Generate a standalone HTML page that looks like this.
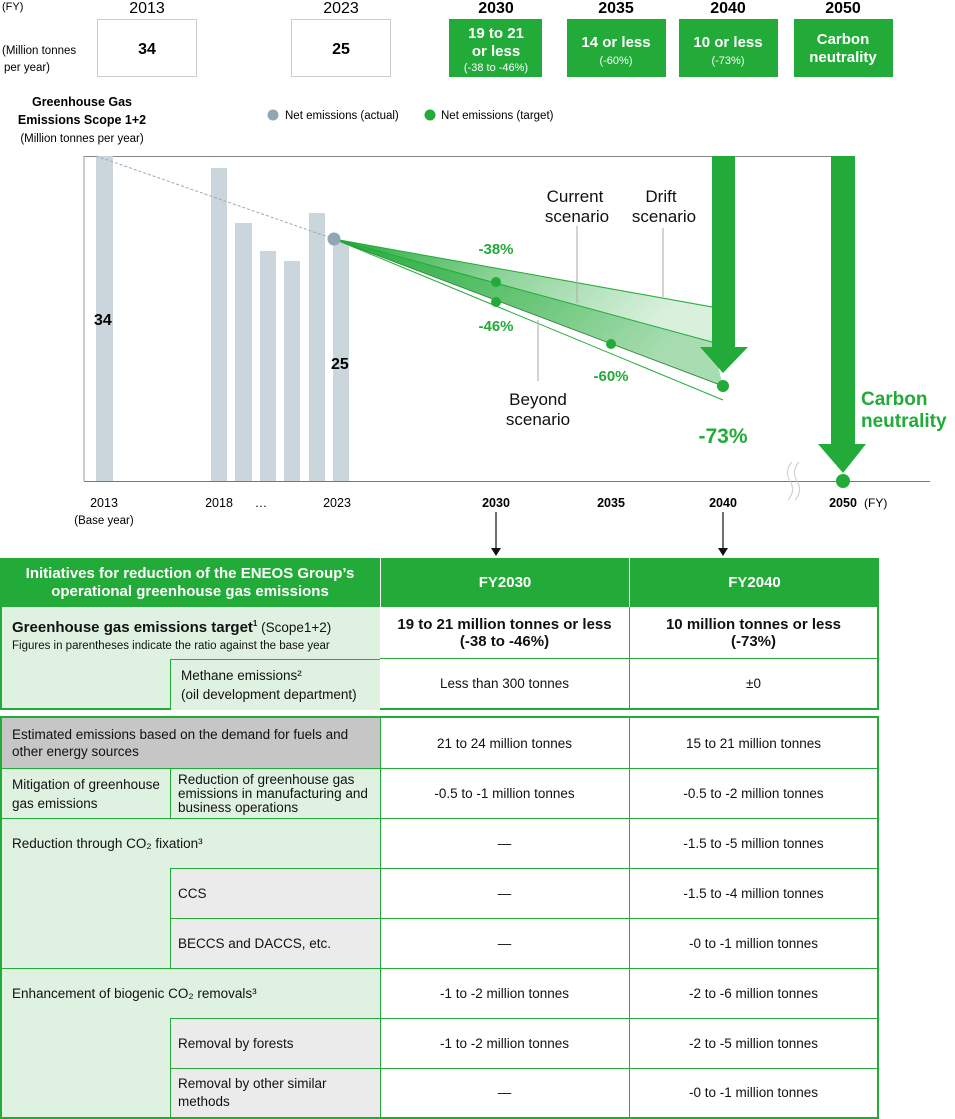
<!DOCTYPE html>
<html><head><meta charset="utf-8"><style>
body{margin:0;width:955px;height:1119px;background:#fff;font-family:"Liberation Sans",sans-serif;position:relative;overflow:hidden;color:#111}
.c{position:absolute;box-sizing:border-box;display:flex;align-items:center;font-size:13.5px;line-height:17px}
.cc{justify-content:center;text-align:center}
.pl{padding-left:10px}
.lg{background:#dff2e2}.gy{background:#c6c6c6}.lgy{background:#ebebeb}.wh{background:#fff}
.hd{background:#22ab38;color:#fff;font-weight:bold;font-size:15px;line-height:18px}
.ln{position:absolute;background:#22ab38}
</style></head><body>
<svg width="955" height="556" style="position:absolute;left:0;top:0" font-family="Liberation Sans, sans-serif">
<defs>
<linearGradient id="g1" x1="0" y1="0" x2="1" y2="0.3"><stop offset="0" stop-color="#22ab38"/><stop offset="0.5" stop-color="#8ed39a"/><stop offset="1" stop-color="#d8f0dc"/></linearGradient>
<linearGradient id="g2" x1="0" y1="0" x2="1" y2="0.4"><stop offset="0" stop-color="#22ab38"/><stop offset="0.6" stop-color="#6cc77b"/><stop offset="1" stop-color="#a8ddb1"/></linearGradient>
</defs>
<!-- top row -->
<text x="2" y="10" font-size="11">(FY)</text>
<g font-size="16" text-anchor="middle">
<text x="147" y="13">2013</text><text x="341" y="13">2023</text>
<g font-weight="bold"><text x="496" y="13">2030</text><text x="616" y="13">2035</text><text x="728" y="13">2040</text><text x="843" y="13">2050</text></g>
</g>
<text x="2" y="54" font-size="11.5">(Million tonnes</text><text x="4" y="71" font-size="11.5">per year)</text>
<rect x="97.5" y="19.5" width="99" height="57" fill="#fff" stroke="#ccc"/>
<rect x="291.5" y="19.5" width="99" height="57" fill="#fff" stroke="#ccc"/>
<g font-weight="bold" font-size="16" text-anchor="middle"><text x="147" y="54">34</text><text x="341" y="54">25</text></g>
<rect x="449" y="19" width="93" height="58" fill="#22ab38"/>
<rect x="567" y="19" width="99" height="58" fill="#22ab38"/>
<rect x="679" y="19" width="99" height="58" fill="#22ab38"/>
<rect x="794" y="19" width="99" height="58" fill="#22ab38"/>
<g fill="#fff" text-anchor="middle" font-weight="bold" font-size="15">
<text x="496" y="38">19 to 21</text><text x="496" y="56">or less</text>
<text x="616" y="47">14 or less</text><text x="728" y="47">10 or less</text>
<text x="843" y="44">Carbon</text><text x="843" y="62">neutrality</text>
</g>
<g fill="#fff" text-anchor="middle" font-size="11"><text x="496" y="71">(-38 to -46%)</text><text x="616" y="64">(-60%)</text><text x="728" y="64">(-73%)</text></g>
<!-- title/legend -->
<g text-anchor="middle" font-size="12.5" font-weight="bold"><text x="82" y="106">Greenhouse Gas</text><text x="82" y="124">Emissions Scope 1+2</text></g>
<text x="82" y="142" text-anchor="middle" font-size="11.5">(Million tonnes per year)</text>
<circle cx="273" cy="115" r="5.5" fill="#8fa7b3"/><text x="285" y="119" font-size="11.5">Net emissions (actual)</text>
<circle cx="430" cy="115" r="5.5" fill="#22ab38"/><text x="441" y="119" font-size="11.5">Net emissions (target)</text>
<!-- frame -->
<line x1="84" y1="156.5" x2="845" y2="156.5" stroke="#8a8580" stroke-width="1"/>
<line x1="84" y1="156" x2="84" y2="481" stroke="#aaa" stroke-width="1.2"/>
<line x1="84" y1="481.5" x2="930" y2="481.5" stroke="#777" stroke-width="1"/>
<!-- bars -->
<g fill="#cbd6dc">
<rect x="96" y="156" width="17" height="325"/>
<rect x="211" y="168" width="16" height="313"/>
<rect x="235" y="223" width="17" height="258"/>
<rect x="260" y="251" width="16" height="230"/>
<rect x="284" y="261" width="16" height="220"/>
<rect x="309" y="213" width="16" height="268"/>
<rect x="333" y="241" width="16" height="240"/>
</g>
<line x1="96" y1="156" x2="334" y2="239" stroke="#9ab" stroke-dasharray="3,2" stroke-width="1"/>
<g font-weight="bold" font-size="16"><text x="94" y="325">34</text><text x="331" y="369">25</text></g>
<!-- fan -->
<polygon points="334,239 712,306 712,342" fill="url(#g1)"/>
<polygon points="334,239 712,342 723,386" fill="url(#g2)"/>
<g stroke="#22ab38" stroke-width="1" fill="none">
<line x1="334" y1="239" x2="712" y2="307"/>
<line x1="334" y1="239" x2="712" y2="342"/>
<line x1="334" y1="239" x2="723" y2="386" stroke="#3a8a40"/>
<line x1="334" y1="239" x2="723" y2="400"/>
</g>
<g stroke="#aaa" stroke-width="1"><line x1="577" y1="226" x2="577" y2="303"/><line x1="663" y1="228" x2="663" y2="297"/><line x1="538" y1="320" x2="538" y2="381"/></g>
<circle cx="334" cy="239" r="6.5" fill="#8fa7b3"/>
<g fill="#22ab38"><circle cx="496" cy="282" r="5"/><circle cx="496" cy="302" r="5"/><circle cx="611" cy="344" r="5"/><circle cx="723" cy="386" r="6"/></g>
<!-- arrows -->
<g fill="#22ab38">
<rect x="712" y="156" width="23" height="192"/><polygon points="700,347 748,347 723,373"/>
<rect x="831" y="156" width="24" height="289"/><polygon points="818,444 866,444 843,473"/>
<circle cx="843" cy="481" r="7"/>
</g>
<g font-size="17" text-anchor="middle" fill="#111">
<text x="575" y="202">Current</text><text x="577" y="222">scenario</text>
<text x="661" y="202">Drift</text><text x="664" y="222">scenario</text>
<text x="538" y="405">Beyond</text><text x="538" y="425">scenario</text>
</g>
<g fill="#22ab38" font-weight="bold" text-anchor="middle" font-size="15">
<text x="496" y="254">-38%</text><text x="496" y="331">-46%</text><text x="611" y="381">-60%</text>
<text x="723" y="443" font-size="21">-73%</text>
</g>
<g fill="#22ab38" font-weight="bold" font-size="19"><text x="861" y="405">Carbon</text><text x="861" y="427">neutrality</text></g>
<path d="M792,462 q-8,9 -2,19 q6,10 -2,19 M799,462 q-8,9 -2,19 q6,10 -2,19" stroke="#ccc" fill="none" stroke-width="1"/>
<!-- axis labels -->
<g font-size="12.5" text-anchor="middle">
<text x="104" y="507">2013</text><text x="104" y="524" font-size="11.5">(Base year)</text>
<text x="219" y="507">2018</text><text x="261" y="507">…</text><text x="337" y="507">2023</text>
<g font-weight="bold"><text x="496" y="507">2030</text><text x="611" y="507">2035</text><text x="723" y="507">2040</text><text x="843" y="507">2050</text></g>
</g>
<text x="864" y="507" font-size="12">(FY)</text>
<g stroke="#111" stroke-width="1.2"><line x1="496" y1="512" x2="496" y2="549"/><line x1="723" y1="512" x2="723" y2="549"/></g>
<polygon points="491,548 501,548 496,556" fill="#111"/><polygon points="718,548 728,548 723,556" fill="#111"/>
</svg>

<!-- table 1 -->
<div class="c hd cc" style="left:0;top:558px;width:380px;height:49px">Initiatives for reduction of the ENEOS Group’s<br>operational greenhouse gas emissions</div>
<div class="c hd cc" style="left:381px;top:558px;width:248px;height:49px">FY2030</div>
<div class="c hd cc" style="left:630px;top:558px;width:249px;height:49px">FY2040</div>
<div class="c lg pl" style="left:0;top:607px;width:381px;height:103px;border:2px solid #22ab38;border-top:0;border-right:1px solid #22ab38;align-items:flex-start;padding-top:8px;display:block"><span style="font-weight:bold;font-size:15px">Greenhouse gas emissions target<sup style="font-size:8px">1</sup></span> (Scope1+2)<br><span style="font-size:11.5px">Figures in parentheses indicate the ratio against the base year</span></div>
<div class="c lg pl" style="left:170px;top:659px;width:211px;height:51px;border-top:1px solid #22ab38;border-left:1px solid #22ab38;border-right:1px solid #22ab38;line-height:19px">Methane emissions²<br>(oil development department)</div>
<div class="c wh cc" style="left:380px;top:607px;width:499px;height:103px;border:2px solid #22ab38;border-top:0;border-left:0"></div>
<div class="c cc" style="left:380px;top:607px;width:250px;height:52px;font-weight:bold;font-size:15px;border-right:1px solid #22ab38;border-bottom:1px solid #22ab38">19 to 21 million tonnes or less<br>(-38 to -46%)</div>
<div class="c cc" style="left:630px;top:607px;width:247px;height:52px;font-weight:bold;font-size:15px;border-bottom:1px solid #22ab38">10 million tonnes or less<br>(-73%)</div>
<div class="c cc" style="left:380px;top:659px;width:250px;height:49px;border-right:1px solid #22ab38">Less than 300 tonnes</div>
<div class="c cc" style="left:630px;top:659px;width:247px;height:49px">±0</div>

<!-- table 2 -->
<div style="position:absolute;left:0;top:716px;width:879px;height:403px;box-sizing:border-box;border:2px solid #22ab38;background:#dff2e2"></div>
<div class="c gy pl" style="left:2px;top:718px;width:378px;height:50px">Estimated emissions based on the demand for fuels and<br>other energy sources</div>
<div class="c pl" style="left:2px;top:768px;width:168px;height:50px;border-top:1px solid #22ab38;line-height:19px">Mitigation of greenhouse<br>gas emissions</div>
<div class="c pl" style="left:170px;top:768px;width:210px;height:50px;border-top:1px solid #22ab38;border-left:1px solid #22ab38;line-height:14px;padding-left:7px">Reduction of greenhouse gas emissions in manufacturing and business operations</div>
<div class="c pl" style="left:2px;top:818px;width:378px;height:50px;border-top:1px solid #22ab38">Reduction through CO₂ fixation³</div>
<div class="c lgy pl" style="left:170px;top:868px;width:210px;height:50px;border-top:1px solid #22ab38;border-left:1px solid #22ab38;padding-left:7px">CCS</div>
<div class="c lgy pl" style="left:170px;top:918px;width:210px;height:50px;border-top:1px solid #22ab38;border-left:1px solid #22ab38;padding-left:7px">BECCS and DACCS, etc.</div>
<div class="c pl" style="left:2px;top:968px;width:378px;height:50px;border-top:1px solid #22ab38">Enhancement of biogenic CO₂ removals³</div>
<div class="c lgy pl" style="left:170px;top:1018px;width:210px;height:50px;border-top:1px solid #22ab38;border-left:1px solid #22ab38;padding-left:7px">Removal by forests</div>
<div class="c lgy pl" style="left:170px;top:1068px;width:210px;height:49px;border-top:1px solid #22ab38;border-left:1px solid #22ab38;padding-left:7px;line-height:18px">Removal by other similar<br>methods</div>
<div style="position:absolute;left:380px;top:718px;width:497px;height:399px;background:#fff;border-left:1px solid #22ab38;box-sizing:border-box"></div>
<div class="ln" style="left:629px;top:718px;width:1px;height:399px"></div>
<div class="ln" style="left:380px;top:768px;width:497px;height:1px"></div>
<div class="ln" style="left:380px;top:818px;width:497px;height:1px"></div>
<div class="ln" style="left:380px;top:868px;width:497px;height:1px"></div>
<div class="ln" style="left:380px;top:918px;width:497px;height:1px"></div>
<div class="ln" style="left:380px;top:968px;width:497px;height:1px"></div>
<div class="ln" style="left:380px;top:1018px;width:497px;height:1px"></div>
<div class="ln" style="left:380px;top:1068px;width:497px;height:1px"></div>
<div class="c cc" style="left:380px;top:718px;width:249px;height:50px">21 to 24 million tonnes</div>
<div class="c cc" style="left:630px;top:718px;width:247px;height:50px">15 to 21 million tonnes</div>
<div class="c cc" style="left:380px;top:768px;width:249px;height:50px">-0.5 to -1 million tonnes</div>
<div class="c cc" style="left:630px;top:768px;width:247px;height:50px">-0.5 to -2 million tonnes</div>
<div class="c cc" style="left:380px;top:818px;width:249px;height:50px">—</div>
<div class="c cc" style="left:630px;top:818px;width:247px;height:50px">-1.5 to -5 million tonnes</div>
<div class="c cc" style="left:380px;top:868px;width:249px;height:50px">—</div>
<div class="c cc" style="left:630px;top:868px;width:247px;height:50px">-1.5 to -4 million tonnes</div>
<div class="c cc" style="left:380px;top:918px;width:249px;height:50px">—</div>
<div class="c cc" style="left:630px;top:918px;width:247px;height:50px">-0 to -1 million tonnes</div>
<div class="c cc" style="left:380px;top:968px;width:249px;height:50px">-1 to -2 million tonnes</div>
<div class="c cc" style="left:630px;top:968px;width:247px;height:50px">-2 to -6 million tonnes</div>
<div class="c cc" style="left:380px;top:1018px;width:249px;height:50px">-1 to -2 million tonnes</div>
<div class="c cc" style="left:630px;top:1018px;width:247px;height:50px">-2 to -5 million tonnes</div>
<div class="c cc" style="left:380px;top:1068px;width:249px;height:49px">—</div>
<div class="c cc" style="left:630px;top:1068px;width:247px;height:49px">-0 to -1 million tonnes</div>
</body></html>
